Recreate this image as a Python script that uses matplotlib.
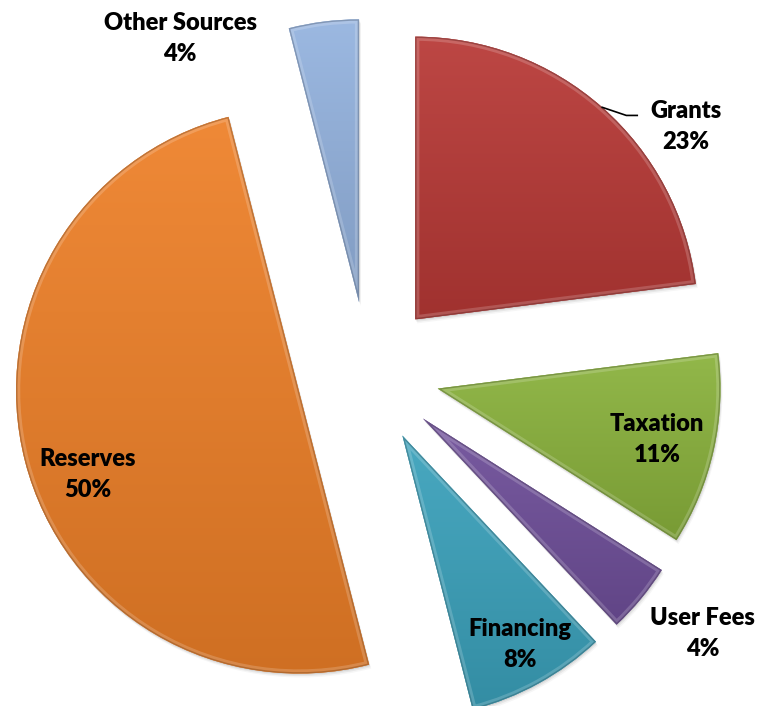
import numpy as np
import matplotlib.pyplot as plt
from matplotlib.patches import PathPatch
from matplotlib.transforms import Affine2D
import matplotlib.colors as mcolors

labels = ['Grants', 'Taxation', 'User Fees', 'Financing', 'Reserves', 'Other Sources']
shares = [23, 11, 4, 8, 50, 4]
colors = ['#B83936', '#8AB23C', '#6F4F9A', '#3BA2BC', '#EE8028', '#94B3DF']

# label centres (data units, pie centre at 0,0, radius 1)
label_pos = [(1.136, 0.882), (1.032, -0.239), (1.196, -0.932),
             (0.543, -0.968), (-1.0, -0.361), (-0.671, 1.196)]

plt.rcParams['font.family'] = ['Lato', 'DejaVu Sans']

fig = plt.figure(figsize=(7.62, 7.06), dpi=100)
ax = fig.add_axes([0, 0, 1, 1])
wedges, _ = ax.pie(shares, colors=colors, startangle=90, counterclock=False,
                   explode=[0.255] * len(shares), radius=1.01)

for w, c in zip(wedges, colors):
    base = np.array(mcolors.to_rgb(c))
    path = w.get_path()
    (x0, y0), (x1, y1) = path.get_extents().get_points()
    t = np.linspace(0, 1, 150)[:, None]
    top = base + (1 - base) * 0.07
    bot = base * 0.87
    rgb = bot[None, :] * (1 - t) + top[None, :] * t
    arr = np.repeat(rgb[:, None, :], 2, axis=1)
    im = ax.imshow(arr, extent=(x0, x1, y0, y1), origin='lower',
                   interpolation='bilinear', zorder=2, aspect='auto')
    im.set_clip_path(w)
    # soft shadow
    for k, a in [(0.004, 0.18), (0.009, 0.12), (0.014, 0.07)]:
        sh = PathPatch(path.transformed(Affine2D().translate(k * 0.5, -k)),
                       facecolor='#808080', edgecolor='none', alpha=a, zorder=0.5)
        ax.add_patch(sh)
    # bevel: light inner glow, dark rim
    glow = PathPatch(path, fill=False, edgecolor='white', lw=6, alpha=0.18, zorder=3)
    ax.add_patch(glow)
    glow.set_clip_path(w)
    rim = PathPatch(path, fill=False, edgecolor=base * 0.6, lw=2.0, alpha=0.5, zorder=3.5)
    ax.add_patch(rim)
    rim.set_clip_path(w)

for w, lab, s, (lx, ly) in zip(wedges, labels, shares, label_pos):
    ax.text(lx, ly, '%s\n%d%%' % (lab, s), ha='center', va='center',
            fontsize=17, fontweight='heavy', linespacing=1.5, zorder=6)

# leader line for Grants
g = wedges[0]
mid = np.deg2rad((g.theta1 + g.theta2) / 2)
sx = g.center[0] + g.r * np.cos(mid)
sy = g.center[1] + g.r * np.sin(mid)
ax.plot([sx, sx + 0.086, sx + 0.125], [sy, sy - 0.029, sy - 0.029],
        color='black', lw=1.2, zorder=6)

ax.set_xlim(-368 / 280, (762 - 368) / 280)
ax.set_ylim(-(706 - 373) / 280, 373 / 280)
ax.set_aspect('equal')
ax.axis('off')

fig.savefig('out.png', dpi=100)
